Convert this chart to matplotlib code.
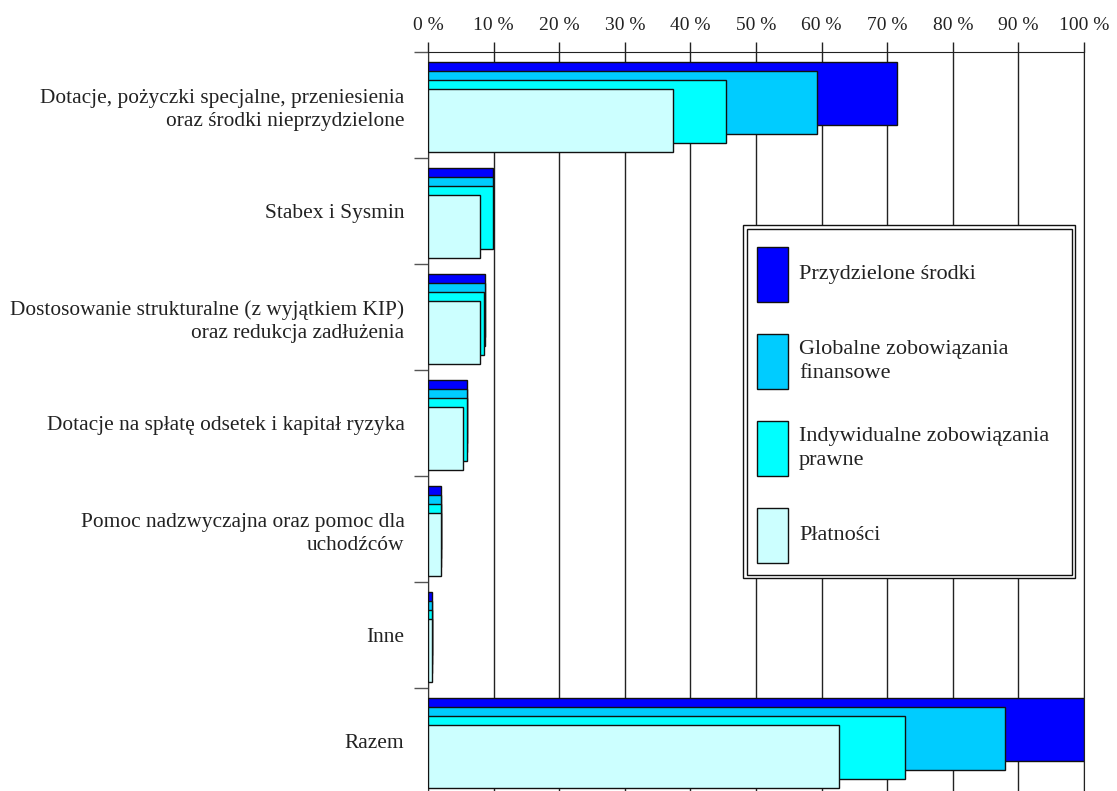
import numpy as np
import matplotlib
matplotlib.use('Agg')
import matplotlib.pyplot as plt
from matplotlib.patches import Rectangle

plt.rcParams['font.family'] = ['Liberation Serif', 'DejaVu Serif']

# Data (% of total)
categories = [
    'Dotacje, pożyczki specjalne, przeniesienia\noraz środki nieprzydzielone',
    'Stabex i Sysmin',
    'Dostosowanie strukturalne (z wyjątkiem KIP)\noraz redukcja zadłużenia',
    'Dotacje na spłatę odsetek i kapitał ryzyka',
    'Pomoc nadzwyczajna oraz pomoc dla\nuchodźców',
    'Inne',
    'Razem',
]
przydzielone = [71.5, 9.9, 8.7, 6.0, 2.0, 0.65, 100.0]
globalne = [59.3, 9.9, 8.7, 6.0, 2.0, 0.6, 88.0]
indywidualne = [45.4, 9.9, 8.5, 5.9, 2.0, 0.6, 72.7]
platnosci = [37.3, 7.9, 8.0, 5.3, 2.0, 0.6, 62.6]

series_names = ['Przydzielone środki', 'Globalne zobowiązania\nfinansowe',
                'Indywidualne zobowiązania\nprawne', 'Płatności']
series_values = [przydzielone, globalne, indywidualne, platnosci]
colors = ['#0000FF', '#00CCFF', '#00FFFF', '#CCFFFF']

W, H = 1117, 791
fig = plt.figure(figsize=(W / 100, H / 100), dpi=100)
ax = fig.add_axes([428 / W, (H - 794) / H, 656 / W, 742 / H])

n = len(categories)
pos = np.arange(n)
bar_h = 0.594
for j, (vals, c) in enumerate(zip(series_values, colors)):
    ax.barh(pos + 0.094 + j * 0.085, vals, height=bar_h, align='edge',
            color=c, edgecolor='#111111', linewidth=1.0, zorder=3 + j)

ax.set_xlim(0, 100)
ax.set_ylim(n, 0)

# vertical grid
ax.set_xticks(np.arange(0, 101, 10))
ax.set_xticklabels([f'{v} %' for v in range(0, 101, 10)], fontsize=14, color='#222222')
ax.xaxis.grid(True, color='#222222', linewidth=1.0, zorder=0)
ax.set_axisbelow(True)
ax.tick_params(axis='x', top=True, bottom=True, labeltop=True, labelbottom=False,
               length=7, width=1, color='#222222', pad=6, direction='out')

# y ticks at boundaries, labels at centres
ax.set_yticks(np.arange(0, n + 1))
ax.set_yticklabels([])
ax.tick_params(axis='y', which='major', length=10, width=1, color='#555555')
ax.set_yticks(pos + 0.5, minor=True)
ax.set_yticklabels(categories, minor=True, fontsize=15.4, ha='right',
                   linespacing=1.3, color='#222222')
ax.tick_params(axis='y', which='minor', length=0, pad=17)

ax.spines['bottom'].set_visible(False)
ax.spines['right'].set_color('#222222')
ax.spines['left'].set_color('#333333')
ax.spines['top'].set_color('#222222')

# legend drawn as a boxed key
def fx(px):
    return px / W

def fy(py):
    return 1 - py / H

fig.patches.append(Rectangle((fx(743), fy(578)), fx(1075) - fx(743), fy(225) - fy(578),
                             transform=fig.transFigure, facecolor='white',
                             edgecolor='#111111', linewidth=1.0, zorder=10))
fig.patches.append(Rectangle((fx(746.5), fy(574.5)), fx(1071.5) - fx(746.5), fy(228.5) - fy(574.5),
                             transform=fig.transFigure, facecolor='none',
                             edgecolor='#111111', linewidth=1.0, zorder=11))
tops = [247, 334, 421, 508]
for name, c, t in zip(series_names, colors, tops):
    fig.patches.append(Rectangle((fx(757), fy(t + 55)), fx(788) - fx(757), fy(t) - fy(t + 55),
                                 transform=fig.transFigure, facecolor=c,
                                 edgecolor='#111111', linewidth=1.0, zorder=12))
    fig.text(fx(799), fy(t + 27.5), name, fontsize=16, va='center', ha='left',
             color='#222222', linespacing=1.3, zorder=13)

fig.savefig('out.png', dpi=100)
